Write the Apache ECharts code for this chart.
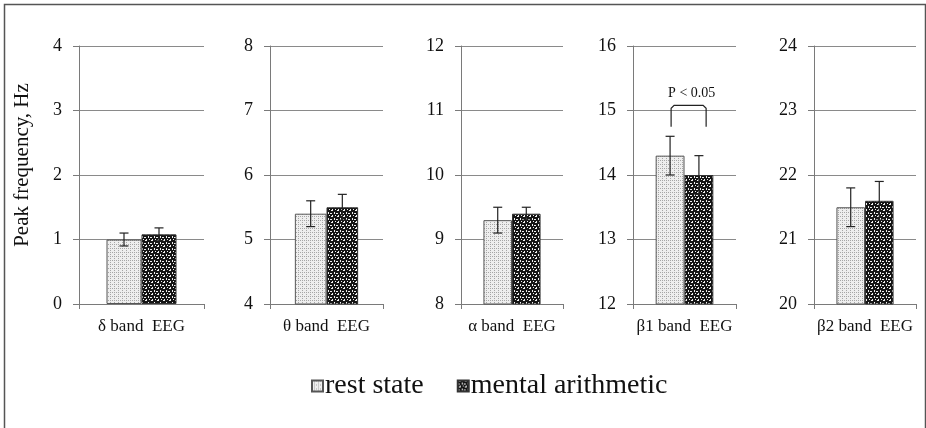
<!DOCTYPE html>
<html>
<head>
<meta charset="utf-8">
<script src="https://cdn.jsdelivr.net/npm/echarts@6/dist/echarts.min.js"></script>
<style>
html,body{margin:0;padding:0;background:#fff;}
#c{width:926px;height:428px;}
</style>
</head>
<body>
<div id="c"></div>
<script>
// ---- data ----
const categories = ['δ band  EEG', 'θ band  EEG', 'α band  EEG', 'β1 band  EEG', 'β2 band  EEG'];
const seriesNames = ['rest state', 'mental arithmetic'];
const restState = [1.0, 5.4, 9.3, 14.3, 21.5];
const restErr = [0.1, 0.2, 0.2, 0.3, 0.3];
const mentalArith = [1.08, 5.5, 9.4, 14.0, 21.6];
const mentalErr = [0.1, 0.2, 0.1, 0.3, 0.3];
const yMins = [0, 4, 8, 12, 20];
const yMaxs = [4, 8, 12, 16, 24];
const yInterval = 1;
const yAxisName = 'Peak frequency, Hz';
const sigPanel = 3;
const sigText = 'P < 0.05';
const sigBracketLevel = 15.08;
const sigLegLevel = 14.75;
const sigTextLevel = 15.27;

// ---- layout ----
const FONT = "'Liberation Serif','Times New Roman',serif";
const gridLefts = [79, 270, 461, 633, 814];
const gridWidths = [125, 113, 102, 103, 102];
const gridTop = 46, gridHeight = 258;

function makePattern(bg, dotColor, size, dots) {
  const cv = document.createElement('canvas');
  cv.width = size; cv.height = size;
  const ctx = cv.getContext('2d');
  ctx.fillStyle = bg; ctx.fillRect(0, 0, size, size);
  ctx.fillStyle = dotColor;
  dots.forEach(d => ctx.fillRect(d[0], d[1], d[2] || 1, d[3] || 1));
  return { image: cv, repeat: 'repeat' };
}
const restPattern = makePattern('#eeeeee', '#a6a6a6', 4, [[0,0],[2,2],[2,0,1,1]]);
const mentalPattern = makePattern('#151515', '#f0f0f0', 6, [[1,0,2,1],[4,2,1,2],[0,3,2,1],[2,5,1,1],[5,5,1,1]]);

const chart = echarts.init(document.getElementById('c'), null, { renderer: 'canvas' });

const grids = [], xAxes = [], yAxes = [], series = [];
categories.forEach((cat, i) => {
  grids.push({ left: gridLefts[i], top: gridTop, width: gridWidths[i], height: gridHeight, containLabel: false });
  xAxes.push({
    type: 'category', gridIndex: i, data: [cat],
    axisLine: { show: true, lineStyle: { color: '#7a7a7a', width: 1 } },
    axisTick: { show: true, length: 5, lineStyle: { color: '#7a7a7a' } },
    axisLabel: { color: '#111', fontFamily: FONT, fontSize: 17, margin: 14 }
  });
  yAxes.push({
    type: 'value', gridIndex: i, min: yMins[i], max: yMaxs[i], interval: yInterval,
    name: i === 0 ? yAxisName : '',
    nameLocation: 'middle', nameGap: 46,
    nameTextStyle: { color: '#111', fontFamily: FONT, fontSize: 21, padding: [0, 0, 0, 20] },
    axisLine: { show: true, lineStyle: { color: '#7a7a7a', width: 1 } },
    axisTick: { show: true, length: 6, lineStyle: { color: '#7a7a7a' } },
    axisLabel: { color: '#111', fontFamily: FONT, fontSize: 18, margin: 17 },
    splitLine: { show: true, lineStyle: { color: '#8a8a8a', width: 1 } }
  });
  series.push({
    name: seriesNames[0], type: 'bar', xAxisIndex: i, yAxisIndex: i,
    data: [restState[i]], barWidth: '28%', barGap: '0%',
    itemStyle: { color: restPattern, borderColor: '#555', borderWidth: 1 },
    emphasis: { disabled: true }, z: 2
  });
  series.push({
    name: seriesNames[1], type: 'bar', xAxisIndex: i, yAxisIndex: i,
    data: [mentalArith[i]], barWidth: '28%', barGap: '0%',
    itemStyle: { color: mentalPattern, borderColor: '#333', borderWidth: 1 },
    emphasis: { disabled: true }, z: 2
  });
  // error bars
  series.push({
    type: 'custom', xAxisIndex: i, yAxisIndex: i, z: 5, silent: true,
    data: [[0, restState[i] - restErr[i], restState[i] + restErr[i], -1],
           [0, mentalArith[i] - mentalErr[i], mentalArith[i] + mentalErr[i], 1]],
    encode: { x: 0, y: [1, 2] },
    renderItem: function (params, api) {
      const bw = api.size([1, 0])[0];
      const side = api.value(3);
      const lo = api.coord([api.value(0), api.value(1)]);
      const hi = api.coord([api.value(0), api.value(2)]);
      const x = lo[0] + side * bw * 0.14;
      const cap = 4.5;
      const style = { stroke: '#222', lineWidth: 1.2, fill: null };
      return {
        type: 'group',
        children: [
          { type: 'line', shape: { x1: x, y1: lo[1], x2: x, y2: hi[1] }, style: style },
          { type: 'line', shape: { x1: x - cap, y1: hi[1], x2: x + cap, y2: hi[1] }, style: style },
          { type: 'line', shape: { x1: x - cap, y1: lo[1], x2: x + cap, y2: lo[1] }, style: style }
        ]
      };
    }
  });
});

// significance bracket
series.push({
  type: 'custom', xAxisIndex: sigPanel, yAxisIndex: sigPanel, z: 6, silent: true,
  data: [[0, sigBracketLevel, sigLegLevel, sigTextLevel]],
  encode: { x: 0, y: [1, 2, 3] },
  renderItem: function (params, api) {
    const bw = api.size([1, 0])[0];
    const top = api.coord([0, api.value(1)]);
    const leg = api.coord([0, api.value(2)]);
    const txt = api.coord([0, api.value(3)]);
    const xl = top[0] - bw * 0.13, xr = top[0] + bw * 0.21;
    const r = 3;
    return {
      type: 'group',
      children: [
        { type: 'polyline', shape: { points: [[xl, leg[1]], [xl, top[1] + r], [xl + r, top[1]], [xr - r, top[1]], [xr, top[1] + r], [xr, leg[1]]] },
          style: { stroke: '#222', lineWidth: 1.2, fill: null } },
        { type: 'text', x: top[0] + bw * 0.07, y: txt[1],
          style: { text: sigText, fontFamily: FONT, fontSize: 14, fill: '#111', align: 'center', verticalAlign: 'middle' } }
      ]
    };
  }
});

chart.setOption({
  backgroundColor: '#fff',
  animation: false,
  graphic: [{
    type: 'rect', left: 2, top: 2, silent: true,
    shape: { x: 0, y: 0, width: 921, height: 480 },
    style: { fill: null, stroke: '#555', lineWidth: 1.5 }
  }],
  legend: {
    data: seriesNames, left: 311, top: 372, padding: 0,
    itemWidth: 11, itemHeight: 11, itemGap: 33, icon: 'rect',
    textStyle: { fontFamily: FONT, fontSize: 28, color: '#111', padding: [0, 0, 0, -3] },
    selectedMode: false
  },
  grid: grids, xAxis: xAxes, yAxis: yAxes, series: series
});
</script>
</body>
</html>
